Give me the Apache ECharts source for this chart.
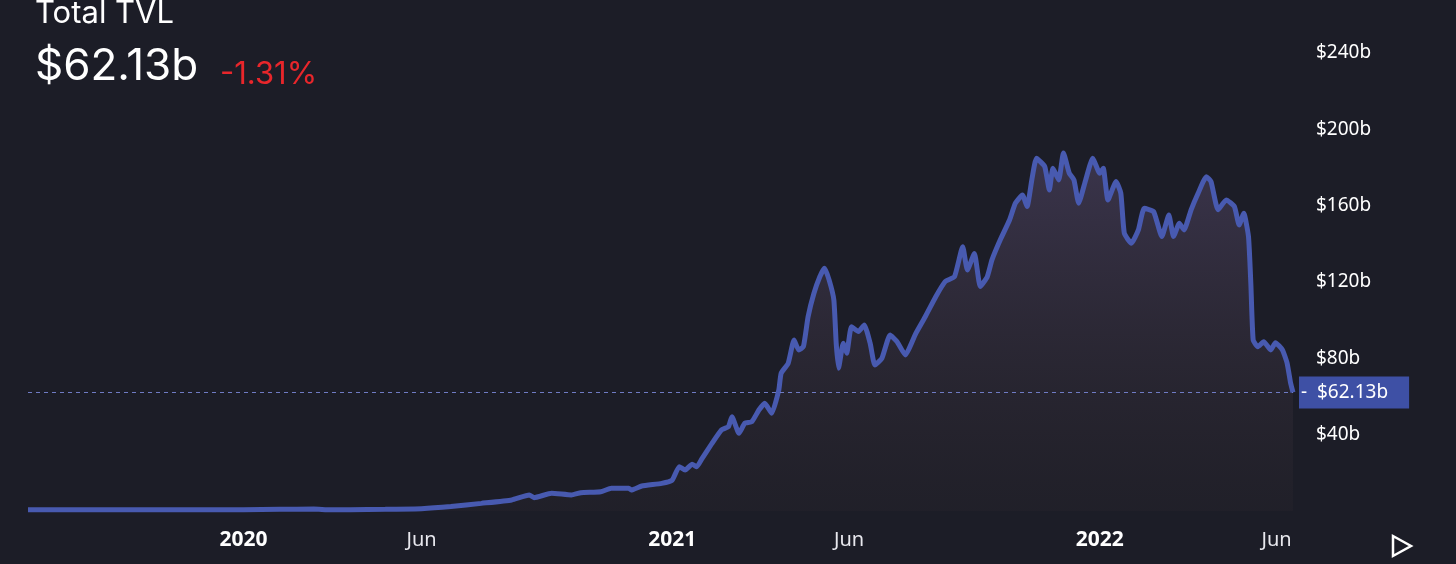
<!DOCTYPE html>
<html>
<head>
<meta charset="utf-8">
<script src="https://cdn.jsdelivr.net/npm/echarts@6/dist/echarts.min.js"></script>
<style>
  html, body { margin: 0; padding: 0; background: #1c1d27; }
  #chart { width: 1456px; height: 564px; }
</style>
</head>
<body>
<div id="chart"></div>
<script>
// ---- data (values in billions USD) ----
const dates = [
  '2019-07-01','2019-08-01','2019-09-01','2019-10-01','2019-11-01','2019-12-01',
  '2020-01-01','2020-02-01','2020-03-01','2020-03-15','2020-04-01','2020-05-01','2020-06-01',
  '2020-06-26','2020-07-22','2020-08-17','2020-09-01','2020-09-05','2020-09-20','2020-10-07',
  '2020-10-15','2020-11-01','2020-11-10','2020-11-25','2020-11-27','2020-12-06','2020-12-23',
  '2021-01-01','2021-01-07','2021-01-12','2021-01-18','2021-01-22','2021-01-26','2021-02-04',
  '2021-02-12','2021-02-18','2021-02-21','2021-02-27','2021-03-04','2021-03-10','2021-03-16',
  '2021-03-21','2021-03-27','2021-04-02','2021-04-04','2021-04-10','2021-04-15','2021-04-19',
  '2021-04-23','2021-04-27','2021-05-02','2021-05-07','2021-05-11','2021-05-15','2021-05-19',
  '2021-05-21','2021-05-23','2021-05-27','2021-05-30','2021-06-03','2021-06-09','2021-06-14',
  '2021-06-19','2021-06-23','2021-06-29','2021-07-06','2021-07-12','2021-07-19','2021-07-28',
  '2021-08-05','2021-08-14','2021-08-22','2021-08-30','2021-09-06','2021-09-10','2021-09-16',
  '2021-09-21','2021-09-27','2021-10-01','2021-10-08','2021-10-16','2021-10-21','2021-10-27',
  '2021-10-31','2021-11-04','2021-11-08','2021-11-15','2021-11-19','2021-11-22','2021-11-27',
  '2021-12-01','2021-12-06','2021-12-10','2021-12-14','2021-12-20','2021-12-26','2022-01-01',
  '2022-01-04','2022-01-08','2022-01-15','2022-01-19','2022-01-22','2022-01-28','2022-02-03',
  '2022-02-08','2022-02-16','2022-02-23','2022-03-01','2022-03-05','2022-03-10','2022-03-14',
  '2022-03-20','2022-03-26','2022-04-02','2022-04-06','2022-04-12','2022-04-19','2022-04-26',
  '2022-04-30','2022-05-04','2022-05-08','2022-05-10','2022-05-12','2022-05-16','2022-05-21',
  '2022-05-27','2022-05-31','2022-06-06','2022-06-10','2022-06-13','2022-06-15'
];
const tvl = [
  0.6, 0.6, 0.6, 0.6, 0.7, 0.7,
  0.7, 0.9, 1.0, 0.6, 0.7, 0.9, 1.2,
  2.3, 4.0, 5.8, 8.4, 7.0, 9.3, 8.4,
  9.6, 10.1, 11.9, 11.9, 11.0, 13.1, 14.5,
  16.2, 23.2, 21.5, 24.5, 23.2, 27.0, 35.5,
  42.5, 44.2, 49.4, 40.7, 46.0, 46.8, 52.9,
  56.4, 51.2, 63.4, 72.2, 77.4, 89.6, 84.4,
  86.1, 101.8, 114.1, 122.8, 127.2, 121.0, 110.6,
  87.9, 74.8, 87.9, 82.7, 96.6, 94.0, 97.5,
  87.9, 76.5, 80.0, 92.2, 88.7, 81.8, 93.1,
  101.8, 112.3, 120.2, 122.8, 138.5, 126.3, 135.0,
  117.6, 122.8, 131.6, 142.0, 152.5, 161.3, 165.6,
  159.5, 173.5, 184.8, 180.5, 168.2, 179.6, 173.5,
  187.6, 177.0, 173.5, 161.3, 173.5, 184.8, 177.0,
  179.6, 163.0, 172.6, 166.5, 145.5, 140.3, 147.3,
  158.6, 156.9, 143.8, 155.1, 143.8, 150.8, 147.3,
  157.8, 166.5, 175.2, 172.6, 157.8, 163.0, 159.5,
  149.9, 156.0, 143.8, 119.3, 89.6, 86.1, 88.7,
  84.4, 88.2, 84.4, 77.4, 66.9, 62.13
];
const currentValue = 62.13;
const changePct = '-1.31%';
const tickDates = ['2020-01-01', '2020-06-01', '2021-01-01', '2021-06-01', '2022-01-01', '2022-06-01'];
const tickLabels = ['2020', 'Jun', '2021', 'Jun', '2022', 'Jun'];
const yTicks = [0, 40, 80, 120, 160, 200, 240];

// ---- chart ----
const toTime = d => Date.UTC(+d.slice(0, 4), +d.slice(5, 7) - 1, +d.slice(8, 10));
const chart = echarts.init(document.getElementById('chart'), null, { renderer: 'canvas' });
const seriesData = dates.map((d, i) => [toTime(d), tvl[i]]);
const tickTimes = tickDates.map(toTime);
const fmtB = v => '$' + v + 'b';

const option = {
  backgroundColor: '#1c1d27',
  animation: false,
  title: [
    { text: 'Total TVL', left: 30, top: -7,
      textStyle: { color: '#ffffff', fontSize: 31, fontWeight: 'normal', fontFamily: 'Inter' } },
    { text: '$' + currentValue.toFixed(2) + 'b', left: 30, top: 40,
      textStyle: { color: '#ffffff', fontSize: 44, fontWeight: 'normal', fontFamily: 'Inter' } },
    { text: changePct, left: 215, top: 54,
      textStyle: { color: '#e8262b', fontSize: 31, fontWeight: 'normal', fontFamily: 'Inter' } }
  ],
  grid: { left: 28, right: 163, top: 53, bottom: 53, containLabel: false },
  xAxis: {
    type: 'value',
    min: toTime(dates[0]),
    max: toTime(dates[dates.length - 1]),
    axisLine: { show: false },
    axisTick: { show: false },
    splitLine: { show: false },
    axisLabel: {
      customValues: tickTimes,
      margin: 19,
      formatter: function (val) {
        let idx = -1, best = Infinity;
        tickTimes.forEach((t, i) => { const dd = Math.abs(t - val); if (dd < best) { best = dd; idx = i; } });
        if (best > 86400000 * 3) return '';
        const lab = tickLabels[idx];
        return /^\d{4}$/.test(lab) ? '{y|' + lab + '}' : '{m|' + lab + '}';
      },
      rich: {
        y: { color: '#ffffff', fontSize: 21, fontWeight: 'bold', fontFamily: 'Noto Sans' },
        m: { color: '#e8e8ee', fontSize: 20, fontFamily: 'Noto Sans' }
      }
    }
  },
  yAxis: {
    type: 'value',
    position: 'right',
    min: yTicks[0],
    max: yTicks[yTicks.length - 1],
    interval: 40,
    axisLine: { show: false },
    axisTick: { show: false },
    splitLine: { show: false },
    axisLabel: {
      margin: 23,
      color: '#ffffff',
      fontSize: 19,
      fontFamily: 'Noto Sans',
      align: 'left',
      formatter: v => (v === 0 ? '' : fmtB(v))
    }
  },
  series: [{
    type: 'line',
    data: seriesData,
    showSymbol: false,
    smooth: 0.15,
    lineStyle: { color: '#485ab0', width: 5 },
    itemStyle: { color: '#485ab0' },
    areaStyle: {
      color: new echarts.graphic.LinearGradient(0, 0, 0, 1, [
        { offset: 0, color: 'rgba(115,96,145,0.5)' },
        { offset: 1, color: 'rgba(80,62,62,0.12)' }
      ])
    },
    markLine: {
      silent: true,
      symbol: 'none',
      lineStyle: { color: '#6f7bc4', type: [4, 4], width: 1 },
      label: {
        position: 'end',
        distance: 6,
        formatter: '-  $' + currentValue.toFixed(2) + 'b',
        color: '#ffffff',
        fontSize: 19,
        fontFamily: 'Noto Sans',
        backgroundColor: '#3e50a5',
        padding: [7, 21, 6, 2]
      },
      data: [{ yAxis: currentValue }]
    }
  }],
  graphic: [{
    type: 'polygon',
    shape: { points: [[1393, 536], [1411, 546], [1393, 556]] },
    style: { fill: 'none', stroke: '#ffffff', lineWidth: 2.5 }
  }]
};
chart.setOption(option);
</script>
</body>
</html>
